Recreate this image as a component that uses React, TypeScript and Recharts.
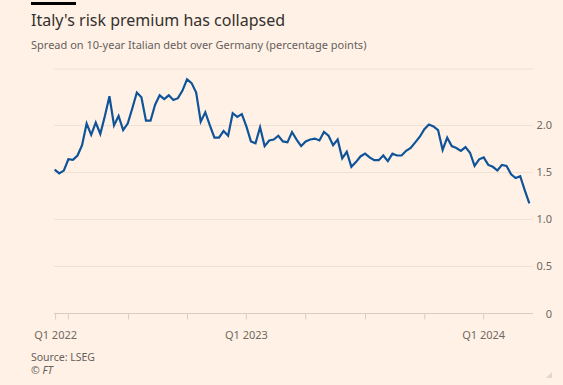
import React from 'react';
import { LineChart, Line, XAxis, YAxis, CartesianGrid } from 'recharts';

// weekly spread, Mar 2022 - Mar 2024 (percentage points)
const spread = [
  1.53, 1.49, 1.52, 1.64, 1.635, 1.68, 1.79, 2.02, 1.9, 2.03,
  1.91, 2.1, 2.31, 2.0, 2.1, 1.95, 2.02, 2.18, 2.35, 2.3,
  2.05, 2.05, 2.22, 2.32, 2.28, 2.32, 2.27, 2.29, 2.37, 2.49,
  2.45, 2.35, 2.04, 2.14, 2.0, 1.87, 1.87, 1.94, 1.89, 2.13,
  2.09, 2.12, 1.99, 1.83, 1.81, 1.98, 1.78, 1.84, 1.85, 1.89,
  1.83, 1.82, 1.93, 1.85, 1.78, 1.83, 1.85, 1.86, 1.84, 1.93,
  1.89, 1.79, 1.85, 1.65, 1.72, 1.56, 1.61, 1.67, 1.7, 1.66,
  1.63, 1.63, 1.68, 1.62, 1.7, 1.68, 1.68, 1.73, 1.76, 1.82,
  1.88, 1.96, 2.01, 1.99, 1.95, 1.74, 1.87, 1.78, 1.76, 1.73,
  1.77, 1.71, 1.57, 1.64, 1.66, 1.58, 1.56, 1.52, 1.58, 1.57,
  1.48, 1.44, 1.46, 1.31, 1.17,
];

// quarter starts, in weeks from the first observation
const quarterTicks = [0.2, 3, 16.2, 29.1, 42, 55, 68.1, 81.1, 94];
const quarterLabels: Record<number, string> = { 0.2: 'Q1 2022', 42: 'Q1 2023', 94: 'Q1 2024' };
const yTicks = [0, 0.5, 1, 1.5, 2];

const data = spread.map((v, i) => ({ week: i, spread: v }));

const FONT = "'Noto Sans', sans-serif";
const BG = '#fff1e5';

const XTick = (props: any) => {
  const { x, y, payload } = props;
  const label = quarterLabels[payload.value];
  if (!label) return null;
  return (
    <text x={x} y={y + 17} textAnchor="middle" fontSize={11} fill="#6f6964" fontFamily={FONT}>
      {label}
    </text>
  );
};

const YTick = (props: any) => {
  const { y, payload } = props;
  return (
    <text x={552} y={y + 4} textAnchor="end" fontSize={11} fill="#6f6964" fontFamily={FONT}>
      {payload.value === 0 ? '0' : payload.value.toFixed(1)}
    </text>
  );
};

export default function App() {
  return (
    <div style={{ position: 'relative', width: 563, height: 385, background: BG, fontFamily: FONT, overflow: 'hidden' }}>
      <style>{`body{margin:0;background:${BG}}`}</style>
      <div style={{ position: 'absolute', left: 31, top: 1.5, width: 45, height: 3, background: '#000' }} />
      <div style={{ position: 'absolute', left: 31, top: 10, fontSize: 16, lineHeight: '21px', color: '#33302e' }}>
        Italy's risk premium has collapsed
      </div>
      <div style={{ position: 'absolute', left: 31, top: 36.5, fontSize: 11, lineHeight: '15px', color: '#66605c' }}>
        Spread on 10-year Italian debt over Germany (percentage points)
      </div>
      <div style={{ position: 'absolute', left: 31, top: 351, fontSize: 10.5, lineHeight: '12px', color: '#66605c' }}>
        Source: LSEG
      </div>
      <div style={{ position: 'absolute', left: 31, top: 364, fontSize: 10.5, lineHeight: '12px', color: '#66605c', fontStyle: 'italic' }}>
        © FT
      </div>
      <svg style={{ position: 'absolute', left: 546, top: 372 }} width={7} height={7}>
        <polygon points="6,0 6,6 0,6" fill="#e3d7cc" />
      </svg>
      <div style={{ position: 'absolute', left: 0, top: 0 }}>
        <LineChart width={563} height={385} data={data} margin={{ top: 69, right: 0, bottom: 41.5, left: 54 }}>
          <CartesianGrid vertical={false} stroke="#f0e1d4" strokeWidth={1} />
          <XAxis
            dataKey="week"
            type="number"
            domain={[-0.15, 104.8]}
            ticks={quarterTicks}
            tick={<XTick />}
            tickSize={6}
            axisLine={{ stroke: '#d9cdc2' }}
            tickLine={{ stroke: '#d9cdc2' }}
            height={30}
            interval={0}
          />
          <YAxis
            orientation="right"
            domain={[0, 2.6]}
            ticks={yTicks}
            tick={<YTick />}
            axisLine={false}
            tickLine={false}
            width={30}
            allowDataOverflow
          />
          <Line
            type="linear"
            dataKey="spread"
            stroke="#0f5499"
            strokeWidth={2.2}
            dot={false}
            isAnimationActive={false}
          />
        </LineChart>
      </div>
    </div>
  );
}
